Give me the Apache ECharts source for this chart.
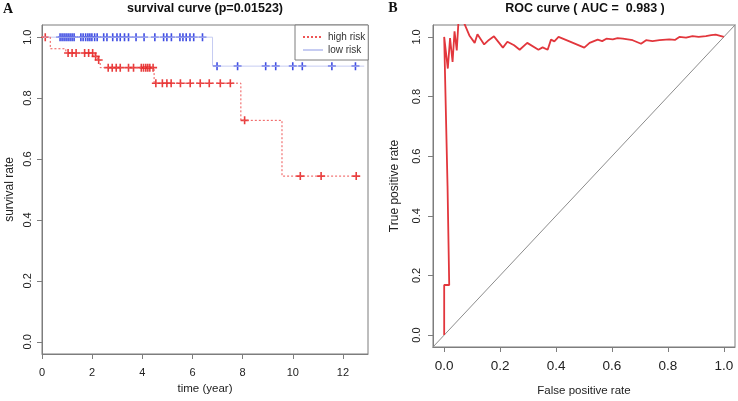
<!DOCTYPE html>
<html>
<head>
<meta charset="utf-8">
<script src="https://cdn.jsdelivr.net/npm/echarts@6/dist/echarts.min.js"></script>
<style>
html, body { margin: 0; padding: 0; background: #fff; }
#chart { width: 738px; height: 401px; }
</style>
</head>
<body>
<div id="chart"></div>
<script>
// panel A: Kaplan-Meier curves
const timeTicks = [0, 2, 4, 6, 8, 10, 12]
const rateTicks = [0, 0.2, 0.4, 0.6, 0.8, 1.0]
const highRiskSteps = [[0, 1], [0.33, 0.962], [0.95, 0.948], [2.1, 0.937], [2.22, 0.925], [2.32, 0.900],
	[4.47, 0.849], [7.93, 0.727], [9.57, 0.544], [12.53, 0.544]]
const highRiskCensor = [[0.13, 1],
	[1.04, 0.948], [1.2, 0.948], [1.36, 0.948], [1.7, 0.948], [1.86, 0.948], [2.02, 0.948],
	[2.14, 0.937], [2.26, 0.925],
	[2.64, 0.9], [2.8, 0.9], [2.96, 0.9], [3.12, 0.9], [3.45, 0.9], [3.65, 0.9], [3.96, 0.9],
	[4.05, 0.9], [4.14, 0.9], [4.22, 0.9], [4.3, 0.9], [4.43, 0.9],
	[4.54, 0.849], [4.8, 0.849], [4.98, 0.849], [5.15, 0.849], [5.52, 0.849], [5.91, 0.849],
	[6.31, 0.849], [6.67, 0.849], [7.11, 0.849], [7.51, 0.849],
	[8.08, 0.727], [10.3, 0.544], [11.13, 0.544], [12.53, 0.544]]
const lowRiskSteps = [[0, 1], [6.8, 0.905], [12.85, 0.905]]
const lowRiskCensor = [
	[0.72, 1], [0.8, 1], [0.88, 1], [0.96, 1], [1.04, 1], [1.12, 1], [1.2, 1], [1.28, 1],
	[1.55, 1], [1.64, 1], [1.74, 1], [1.83, 1], [1.91, 1], [1.99, 1], [2.1, 1], [2.2, 1],
	[2.46, 1], [2.59, 1], [2.82, 1], [2.99, 1], [3.12, 1], [3.29, 1], [3.45, 1],
	[3.75, 1], [4.07, 1], [4.5, 1], [4.85, 1], [4.98, 1], [5.16, 1], [5.5, 1], [5.62, 1],
	[5.75, 1], [5.9, 1], [6.05, 1], [6.4, 1],
	[6.98, 0.905], [7.8, 0.905], [8.92, 0.905], [9.32, 0.905], [10.0, 0.905], [10.38, 0.905],
	[11.56, 0.905], [12.5, 0.905]]

// panel B: ROC curve
const rocTicks = [0, 0.2, 0.4, 0.6, 0.8, 1.0]
const rocFpr = [0, 0, 0.018, 0.012, 0.0, 0.013, 0.021, 0.030, 0.037, 0.045, 0.051, 0.060, 0.072,
	0.090, 0.109, 0.119, 0.143, 0.160, 0.178, 0.210, 0.226, 0.250, 0.270, 0.297, 0.337, 0.352,
	0.370, 0.382, 0.394, 0.409, 0.450, 0.501, 0.520, 0.549, 0.565, 0.580, 0.603, 0.620, 0.639,
	0.674, 0.704, 0.722, 0.745, 0.770, 0.805, 0.825, 0.841, 0.865, 0.888, 0.910, 0.936, 0.955,
	0.971, 1.0]
const rocTpr = [0, 0.168, 0.168, 0.5, 1.0, 0.894, 0.996, 0.916, 1.019, 0.955, 1.05, 1.08, 1.045,
	1.005, 0.98, 1.009, 0.975, 0.99, 1.002, 0.964, 0.984, 0.972, 0.957, 0.98, 0.957, 0.965,
	0.957, 0.991, 0.985, 1.0, 0.984, 0.964, 0.98, 0.991, 0.986, 0.994, 0.992, 0.996, 0.994,
	0.989, 0.977, 0.989, 0.986, 0.989, 0.992, 0.99, 1.0, 0.998, 1.003, 1.0, 1.003, 1.006,
	1.008, 1.0]
const diagonal = [[-0.1, -0.1], [1.1, 1.1]]

const FONT = 'Liberation Sans'
const axisGray = '#7d7d7d'
const plus = 'path://M4,0H6V4H10V6H6V10H4V6H0V4H4Z'

const makeAxis = (opts) => ({
	type: 'value',
	gridIndex: opts.grid,
	min: opts.min,
	max: opts.max,
	name: opts.name,
	nameLocation: 'middle',
	nameGap: opts.nameGap,
	nameTextStyle: { fontFamily: FONT, fontSize: opts.nameSize || 11.5, color: '#222' },
	axisLine: { show: true, onZero: false, lineStyle: { color: axisGray, width: 1 } },
	axisTick: { show: true, length: 5, customValues: opts.ticks, lineStyle: { color: axisGray } },
	axisLabel: {
		customValues: opts.ticks,
		formatter: opts.fmt,
		rotate: opts.rotate || 0,
		margin: opts.margin,
		fontFamily: FONT,
		fontSize: opts.labelSize || 11,
		color: '#222'
	},
	splitLine: { show: false }
})

const myChart = echarts.init(document.getElementById('chart'))
const option = {
	animation: false,
	backgroundColor: '#fff',
	grid: [
		{ left: 42, top: 25, width: 326, height: 329, show: true, borderColor: axisGray, borderWidth: 1, containLabel: false, outerBoundsMode: 'none' },
		{ left: 433, top: 25, width: 302, height: 322, show: true, borderColor: axisGray, borderWidth: 1, containLabel: false, outerBoundsMode: 'none' }
	],
	xAxis: [
		makeAxis({ grid: 0, min: 0, max: 13, ticks: timeTicks, name: 'time (year)', nameGap: 29, margin: 13, fmt: v => String(v) }),
		makeAxis({ grid: 1, min: -0.04, max: 1.04, ticks: rocTicks, name: 'False positive rate', nameGap: 38, margin: 12, labelSize: 13.5, fmt: v => v.toFixed(1) })
	],
	yAxis: [
		makeAxis({ grid: 0, min: -0.04, max: 1.04, ticks: rateTicks, name: 'survival rate', nameGap: 26, nameSize: 12, margin: 9, rotate: 90, fmt: v => v.toFixed(1) }),
		makeAxis({ grid: 1, min: -0.04, max: 1.04, ticks: rocTicks, name: 'True positive rate', nameGap: 32, nameSize: 12, margin: 11, rotate: 90, fmt: v => v.toFixed(1) })
	],
	legend: {
		data: ['high risk', 'low risk'],
		orient: 'vertical',
		left: 295,
		top: 25,
		padding: [7, 3, 5, 7],
		itemWidth: 20,
		itemHeight: 10,
		itemGap: 3,
		borderColor: axisGray,
		borderWidth: 1,
		borderRadius: 0,
		backgroundColor: '#fff',
		itemStyle: { opacity: 0 },
		textStyle: { fontFamily: FONT, fontSize: 10, color: '#333' }
	},
	graphic: [
		{ type: 'text', x: 205, y: 9, style: { text: 'survival curve (p=0.01523)', align: 'center', verticalAlign: 'middle', textAlign: 'center', textVerticalAlign: 'middle', font: 'bold 12.5px "Liberation Sans"', fill: '#111' } },
		{ type: 'text', x: 585, y: 9, style: { text: 'ROC curve ( AUC =  0.983 )', align: 'center', verticalAlign: 'middle', textAlign: 'center', textVerticalAlign: 'middle', font: 'bold 12.5px "Liberation Sans"', fill: '#111' } },
		{ type: 'text', x: 8, y: 9, style: { text: 'A', align: 'center', verticalAlign: 'middle', textAlign: 'center', textVerticalAlign: 'middle', font: 'bold 14px "Liberation Serif"', fill: '#111' } },
		{ type: 'text', x: 393, y: 8, style: { text: 'B', align: 'center', verticalAlign: 'middle', textAlign: 'center', textVerticalAlign: 'middle', font: 'bold 14px "Liberation Serif"', fill: '#111' } }
	],
	series: [
		{
			name: 'low risk', type: 'line', xAxisIndex: 0, yAxisIndex: 0, step: 'end', symbol: 'none',
			data: lowRiskSteps, lineStyle: { color: '#c6ccf2', width: 1 }, itemStyle: { color: '#c6ccf2' }, silent: true
		},
		{
			name: 'high risk', type: 'line', xAxisIndex: 0, yAxisIndex: 0, step: 'end', symbol: 'none',
			data: highRiskSteps, lineStyle: { color: '#ee5555', width: 1, type: [2, 2] }, itemStyle: { color: '#ee5555' }, silent: true
		},
		{
			name: 'low censored', type: 'scatter', xAxisIndex: 0, yAxisIndex: 0, symbol: plus, symbolSize: 8,
			data: lowRiskCensor, itemStyle: { color: '#2a3ae0', opacity: 0.9 }, silent: true
		},
		{
			name: 'high censored', type: 'scatter', xAxisIndex: 0, yAxisIndex: 0, symbol: plus, symbolSize: 8,
			data: highRiskCensor, itemStyle: { color: '#e52828', opacity: 0.9 }, silent: true
		},
		{
			name: 'diagonal', type: 'line', xAxisIndex: 1, yAxisIndex: 1, symbol: 'none', clip: true,
			data: diagonal, lineStyle: { color: '#8c8c8c', width: 1 }, silent: true
		},
		{
			name: 'ROC', type: 'line', xAxisIndex: 1, yAxisIndex: 1, symbol: 'none', clip: true,
			data: rocFpr.map((f, i) => [f, rocTpr[i]]), lineStyle: { color: '#e2363c', width: 1.8 }, silent: true
		}
	]
}
option && myChart.setOption(option)
</script>
</body>
</html>
